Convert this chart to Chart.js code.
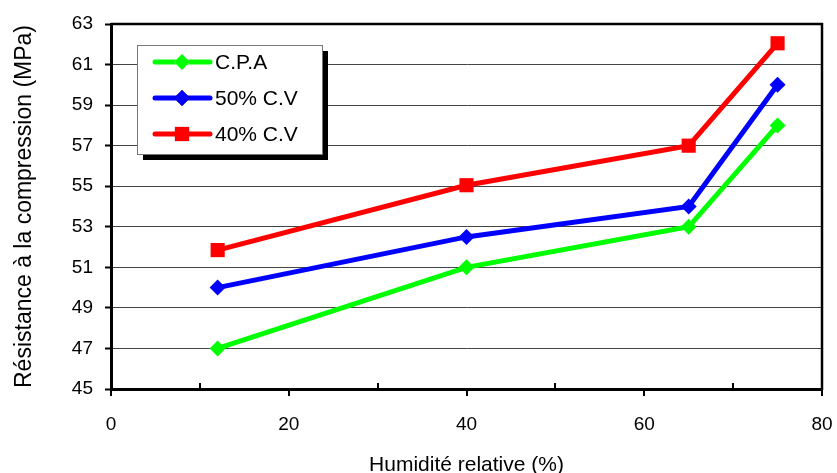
<!DOCTYPE html>
<html>
<head>
<meta charset="utf-8">
<script src="https://cdn.jsdelivr.net/npm/chart.js@4"></script>
<style>
  html, body { margin: 0; padding: 0; background: #fff; }
  #wrap { width: 837px; height: 473px; }
</style>
</head>
<body>
<div id="wrap"><canvas id="resistance" width="837" height="473"></canvas></div>
<script>
var humidite = [12, 40, 65, 75];
var cpa = [47, 51, 53, 58];
var cv50 = [50, 52.5, 54, 60];
var cv40 = [51.85, 55.05, 57, 62.05];
var seriesNames = ['C.P.A', '50% C.V', '40% C.V'];
var xMinorTicks = [10, 30, 50, 70];

function toPoints(vals) {
  return vals.map(function (v, i) { return { x: humidite[i], y: v }; });
}

var police = 'Liberation Sans, Arial, sans-serif';

var datasets = [
  { label: seriesNames[0], data: toPoints(cpa), borderColor: '#00ff00', backgroundColor: '#00ff00', pointStyle: 'rectRot', pointRadius: 8 },
  { label: seriesNames[1], data: toPoints(cv50), borderColor: '#0000ff', backgroundColor: '#0000ff', pointStyle: 'rectRot', pointRadius: 8 },
  { label: seriesNames[2], data: toPoints(cv40), borderColor: '#ff0000', backgroundColor: '#ff0000', pointStyle: 'rect', pointRadius: 10 }
];
datasets.forEach(function (d) { d.borderWidth = 5; d.pointBorderWidth = 0; d.showLine = true; });

// cadre, petites graduations et légende
var decor = {
  id: 'decor',
  afterDraw: function (chart) {
    var ctx = chart.ctx, a = chart.chartArea, xs = chart.scales.x;
    ctx.save();
    ctx.strokeStyle = '#000';
    ctx.lineWidth = 2.5;
    ctx.beginPath();
    ctx.moveTo(a.left, a.top); ctx.lineTo(a.right, a.top); ctx.lineTo(a.right, a.bottom + 1);
    ctx.stroke();
    ctx.lineWidth = 2;
    xMinorTicks.forEach(function (v) {
      var px = Math.round(xs.getPixelForValue(v));
      ctx.beginPath(); ctx.moveTo(px, a.bottom); ctx.lineTo(px, a.bottom - 6); ctx.stroke();
    });

    // légende
    var bx = 137, by = 45, bw = 185, bh = 109;
    ctx.fillStyle = '#000';
    ctx.fillRect(bx + 6, by + 6, bw, bh);
    ctx.fillStyle = '#fff';
    ctx.fillRect(bx, by, bw, bh);
    ctx.strokeStyle = '#777';
    ctx.lineWidth = 1;
    ctx.strokeRect(bx + 0.5, by + 0.5, bw, bh);
    chart.data.datasets.forEach(function (d, i) {
      var y = 62 + i * 36;
      ctx.strokeStyle = d.borderColor;
      ctx.lineWidth = 5;
      ctx.lineCap = 'round';
      ctx.beginPath(); ctx.moveTo(155, y); ctx.lineTo(210, y); ctx.stroke();
      Chart.helpers.drawPoint(ctx, { pointStyle: d.pointStyle, radius: d.pointRadius, borderWidth: 0 }, 182, y);
      ctx.fillStyle = d.backgroundColor;
      ctx.fill();
      ctx.fillStyle = '#000';
      ctx.font = '21px ' + police;
      ctx.textBaseline = 'middle';
      ctx.fillText(d.label, 215, y + 1);
    });
    ctx.restore();
  }
};

new Chart(document.getElementById('resistance'), {
  type: 'scatter',
  data: { datasets: datasets },
  plugins: [decor],
  options: {
    responsive: false,
    animation: false,
    layout: { padding: { top: 24, right: 15, left: 0, bottom: 0 } },
    plugins: { legend: { display: false }, tooltip: { enabled: false } },
    scales: {
      x: {
        type: 'linear', min: 0, max: 80,
        afterFit: function (s) { s.height = 84; s.paddingLeft = 0; s.paddingRight = 0; },
        ticks: { stepSize: 20, color: '#000', padding: 17, font: { family: police, size: 19 } },
        grid: { drawOnChartArea: false, color: '#000', lineWidth: 2, tickLength: 7 },
        border: { color: '#000', width: 3 },
        title: { display: true, text: 'Humidité relative (%)', color: '#000', font: { family: police, size: 21 }, padding: { top: 4, bottom: -5 } }
      },
      y: {
        min: 45, max: 63,
        afterFit: function (s) { s.width = 111; },
        ticks: { stepSize: 2, color: '#000', padding: 12, font: { family: police, size: 19 } },
        grid: { color: '#444', lineWidth: 1, tickLength: 6, tickColor: '#000', tickWidth: 2 },
        border: { color: '#000', width: 3 },
        title: { display: true, text: 'Résistance à la compression (MPa)', color: '#000', font: { family: police, size: 23 }, padding: { top: 11, bottom: 0 } }
      }
    }
  }
});
</script>
</body>
</html>
